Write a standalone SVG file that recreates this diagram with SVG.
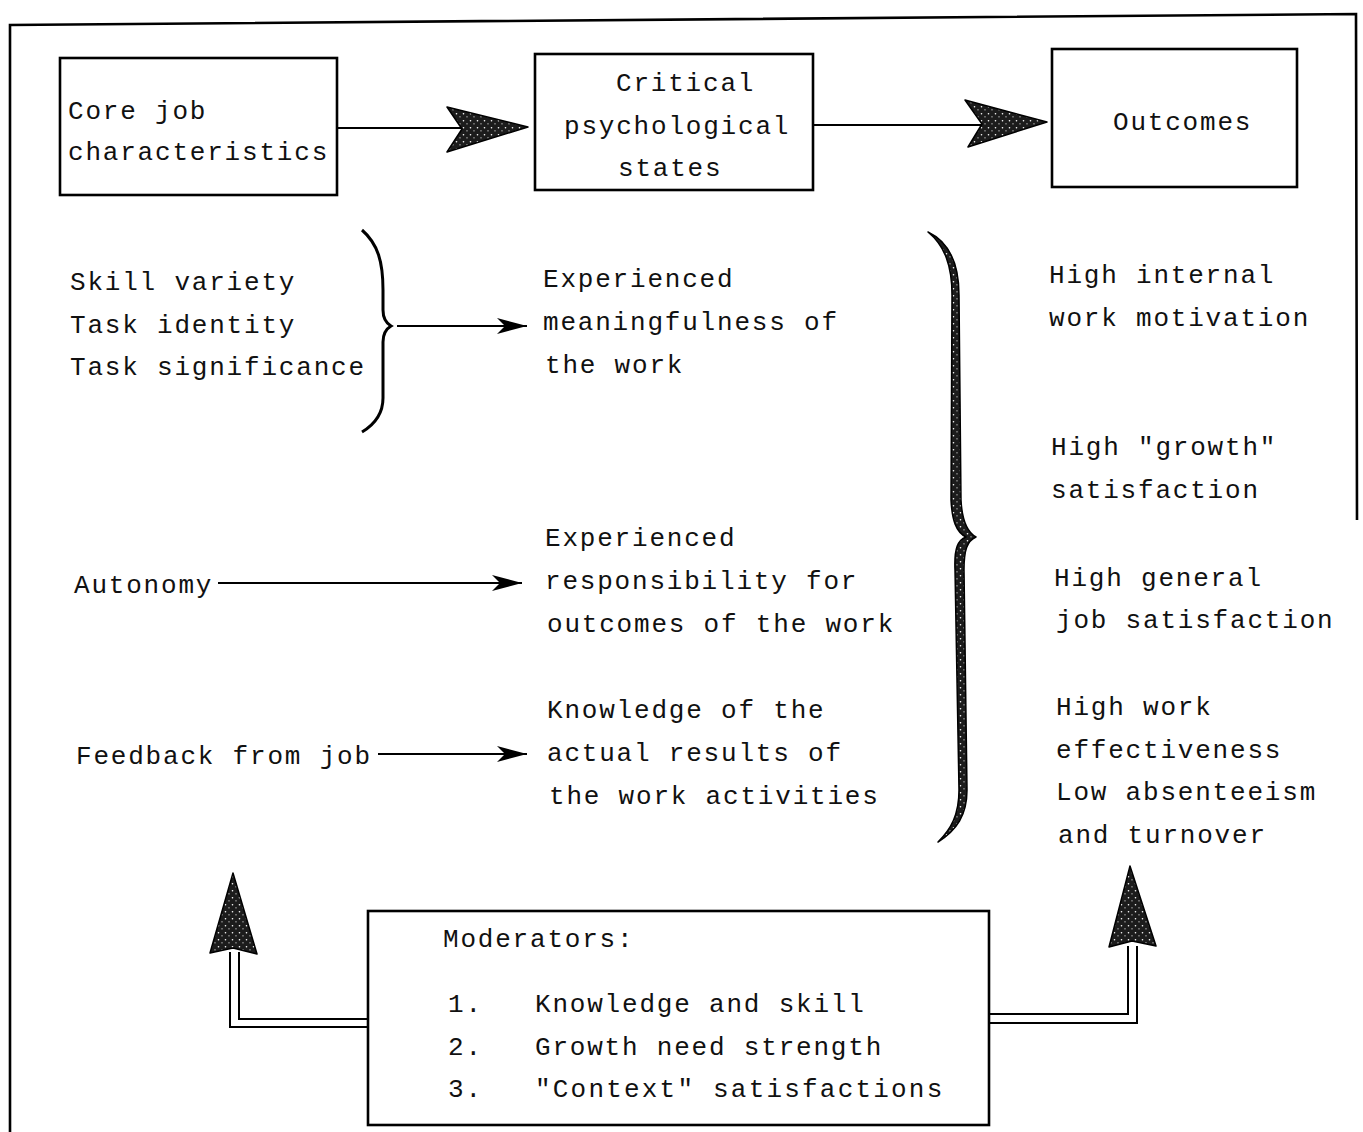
<svg xmlns="http://www.w3.org/2000/svg" width="1363" height="1132" viewBox="0 0 1363 1132">
<defs>
<style>
.t{font-family:"Liberation Mono","DejaVu Sans Mono",monospace;font-size:26px;letter-spacing:1.8px;fill:#111}
.t.w{letter-spacing:2.2px}
.box{fill:none;stroke:#000;stroke-width:2.6}
.ln{fill:none;stroke:#000;stroke-width:2}
.big{fill:url(#stip);stroke:#000;stroke-width:1.5;stroke-linejoin:round}
</style>
<pattern id="stip" width="7" height="7" patternUnits="userSpaceOnUse">
<rect width="7" height="7" fill="#1c1c1c"/>
<circle cx="1.5" cy="1.8" r="0.8" fill="#fff"/>
<circle cx="5" cy="4.8" r="0.6" fill="#fff"/>
</pattern>
<marker id="dart" markerUnits="userSpaceOnUse" markerWidth="34" markerHeight="20" viewBox="-30 -10 32 20" refX="0" refY="0" orient="auto">
<path d="M0,0 L-30,-8 L-22,0 L-30,8 Z" fill="#000"/>
</marker>
</defs>
<g id="frame">
<path d="M10,1132 L10,25 L1356,14 L1357,520" fill="none" stroke="#000" stroke-width="2.6"/>
</g>
<g id="core">
<rect class="box" x="60" y="58" width="277" height="137"/>
<text class="t" x="68" y="119">Core job</text>
<text class="t" x="68" y="160">characteristics</text>
</g>
<g id="critical">
<rect class="box" x="535" y="54" width="278" height="136"/>
<text class="t" x="616" y="91">Critical</text>
<text class="t" x="564" y="134">psychological</text>
<text class="t" x="618" y="176">states</text>
</g>
<g id="outcomes">
<rect class="box" x="1052" y="49" width="245" height="138"/>
<text class="t" x="1113" y="130">Outcomes</text>
</g>
<g id="core-list">
<text class="t" x="70" y="290">Skill variety</text>
<text class="t" x="70" y="333">Task identity</text>
<text class="t" x="70" y="375">Task significance</text>
<text class="t" x="74" y="593">Autonomy</text>
<text class="t" x="76" y="764">Feedback from job</text>
</g>
<g id="states-list">
<text class="t" x="543" y="287">Experienced</text>
<text class="t" x="543" y="330">meaningfulness of</text>
<text class="t" x="545" y="373">the work</text>
<text class="t" x="545" y="546">Experienced</text>
<text class="t" x="545" y="589">responsibility for</text>
<text class="t" x="547" y="632">outcomes of the work</text>
<text class="t" x="547" y="718">Knowledge of the</text>
<text class="t" x="547" y="761">actual results of</text>
<text class="t" x="549" y="804">the work activities</text>
</g>
<g id="outcomes-list">
<text class="t" x="1049" y="283">High internal</text>
<text class="t" x="1049" y="326">work motivation</text>
<text class="t" x="1051" y="455">High "growth"</text>
<text class="t" x="1051" y="498">satisfaction</text>
<text class="t" x="1054" y="586">High general</text>
<text class="t" x="1056" y="628">job satisfaction</text>
<text class="t" x="1056" y="715">High work</text>
<text class="t" x="1056" y="758">effectiveness</text>
<text class="t" x="1056" y="800">Low absenteeism</text>
<text class="t" x="1058" y="843">and turnover</text>
</g>
<g id="moderators">
<rect class="box" x="368" y="911" width="621" height="214"/>
<text class="t" x="443" y="947">Moderators:</text>
<text class="t" x="448" y="1012">1.</text>
<text class="t" x="535" y="1012">Knowledge and skill</text>
<text class="t" x="448" y="1055">2.</text>
<text class="t" x="535" y="1055">Growth need strength</text>
<text class="t" x="448" y="1097">3.</text>
<text class="t w" x="535" y="1097">"Context" satisfactions</text>
</g>
<g id="connectors">
<line class="ln" x1="337" y1="128" x2="462" y2="128"/>
<path class="big" d="M528,127 L447,107 L462,129 L447,152 Z"/>
<line class="ln" x1="813" y1="125" x2="982" y2="125"/>
<path class="big" d="M1047,122 L965,100 L982,124 L968,147 Z"/>
<path d="M362,230 C378,244 383,262 383,290 L383,310 C383,318 386,323 391,326 C386,329 383,334 383,342 L383,398 C383,412 377,423 362,432" fill="none" stroke="#000" stroke-width="3"/>
<line class="ln" x1="397" y1="326" x2="527" y2="326" marker-end="url(#dart)"/>
<line class="ln" x1="218" y1="583" x2="522" y2="583" marker-end="url(#dart)"/>
<line class="ln" x1="378" y1="754" x2="527" y2="754" marker-end="url(#dart)"/>
<path class="big" d="M928,232 C949,242 959,262 959,295 L961,500 C962,520 967,532 976,537 C967,541 964,550 964,570 L967,790 C967,815 957,830 938,842 C951,829 959,815 959,790 L955,570 C954,548 958,540 966,537 C956,532 952,520 951,500 L952,295 C952,266 945,246 928,232 Z"/>
<path d="M368,1019 L239,1019 L239,952 M368,1027 L230,1027 L230,952" fill="none" stroke="#000" stroke-width="2"/>
<path class="big" d="M233,873 L210,953 L233,948 L257,954 Z"/>
<path d="M989,1014 L1128,1014 L1128,946 M989,1023 L1137,1023 L1137,946" fill="none" stroke="#000" stroke-width="2"/>
<path class="big" d="M1130,866 L1109,947 L1132,941 L1156,946 Z"/>
</g>
</svg>
